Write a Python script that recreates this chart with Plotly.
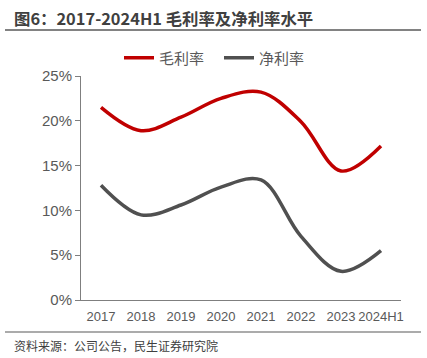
import plotly.graph_objects as go

categories = ["2017", "2018", "2019", "2020", "2021", "2022", "2023", "2024H1"]
gross_margin = [0.215, 0.189, 0.204, 0.225, 0.232, 0.199, 0.144, 0.172]
net_margin = [0.128, 0.095, 0.106, 0.126, 0.134, 0.071, 0.032, 0.055]

font_family = "Liberation Sans, Arial, Noto Sans CJK SC, sans-serif"
cjk_family = "Noto Sans CJK SC, sans-serif"

fig = go.Figure()
fig.add_trace(go.Scatter(x=categories, y=gross_margin, name="毛利率", mode="lines",
                         line=dict(color="#C00000", width=3.5, shape="spline", smoothing=1.0)))
fig.add_trace(go.Scatter(x=categories, y=net_margin, name="净利率", mode="lines",
                         line=dict(color="#505050", width=3.5, shape="spline", smoothing=1.0)))

fig.update_layout(
    width=427, height=358,
    margin=dict(l=81, r=26, t=76, b=58, autoexpand=False),
    paper_bgcolor="white", plot_bgcolor="white",
    font=dict(family=font_family, color="#595959", size=13),
    showlegend=True,
    legend=dict(orientation="h", x=(119 - 81) / 320, xanchor="left", y=1 - 58 / 358, yref="container",
                yanchor="middle", font=dict(size=15, color="#595959", family=cjk_family),
                traceorder="normal", entrywidth=55, entrywidthmode="pixels"),
    xaxis=dict(type="category", range=[-0.5, 7.5], showgrid=False, showline=True,
               linecolor="#7f7f7f", linewidth=1, ticks="", ticklabelstandoff=4,
               tickfont=dict(size=13, color="#595959")),
    yaxis=dict(range=[0, 0.25], tickformat=".0%", dtick=0.05, showgrid=False,
               showline=True, linecolor="#7f7f7f", linewidth=1, ticks="outside",
               ticklen=5, tickcolor="#7f7f7f", tickfont=dict(size=15, color="#595959"),
               zeroline=False),
)

fig.add_annotation(text="<b>图6：2017-2024H1 毛利率及净利率水平</b>", xref="paper", yref="paper",
                   x=(12 - 81) / 320, y=1 + (76 - 18) / 224, xanchor="left", yanchor="middle",
                   showarrow=False, font=dict(size=16.4, color="#404040", family=cjk_family))
fig.add_shape(type="line", xref="paper", yref="paper",
              x0=(5 - 81) / 320, x1=(421 - 81) / 320, y0=1 + (76 - 30) / 224, y1=1 + (76 - 30) / 224,
              line=dict(color="#595959", width=1.5))
fig.add_shape(type="line", xref="paper", yref="paper",
              x0=(5 - 81) / 320, x1=(421 - 81) / 320, y0=-(332 - 300) / 224, y1=-(332 - 300) / 224,
              line=dict(color="#595959", width=1.2))
fig.add_annotation(text="资料来源：公司公告，民生证券研究院", xref="paper", yref="paper",
                   x=(12 - 81) / 320, y=-(345 - 300) / 224, xanchor="left", yanchor="middle",
                   showarrow=False, font=dict(size=12, color="#404040", family=cjk_family))

fig.write_html("out.html", config={"displayModeBar": False},
               post_script="document.body.style.margin='0';document.body.style.padding='0';")
